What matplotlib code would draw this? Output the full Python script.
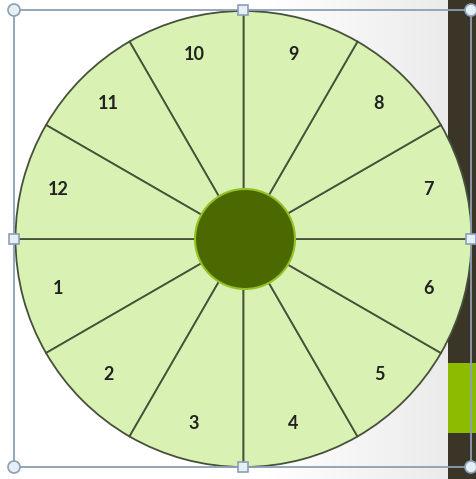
import numpy as np
import matplotlib
matplotlib.use("Agg")
import matplotlib.pyplot as plt
from matplotlib.patches import Circle, Rectangle

# clock-face segments, 1..12, all the same size
labels = ['1', '2', '3', '4', '5', '6', '7', '8', '9', '10', '11', '12']
sizes = [1] * 12

W, H = 476, 479
fig = plt.figure(figsize=(W / 100, H / 100), dpi=100)
ax = fig.add_axes([0, 0, 1, 1])

# background: white fading to light grey toward the right strip
grad = np.linspace(0, 1, 256)
grad = np.clip((grad - 0.6) / 0.4, 0, 1)[None, :]
ax.imshow(grad, extent=(0, 448, 0, H), cmap=matplotlib.colors.LinearSegmentedColormap.from_list(
    'bg', ['#ffffff', '#ebebeb']), aspect='auto', zorder=0)

# dark strip + green block on the right edge
ax.add_patch(Rectangle((448, 0), 30, H, fc='#3b3527', ec='none', zorder=1))
ax.add_patch(Rectangle((448, 46), 30, 70, fc='#8cbb00', ec='none', zorder=1))

cx, cy, R = 243.5, 240, 228
wedges, texts = ax.pie(sizes, labels=labels, startangle=180, counterclock=True,
                       center=(cx, cy), radius=R, labeldistance=0.84,
                       colors=['#d9f1b2'] * 12,
                       wedgeprops=dict(edgecolor='#46513a', linewidth=1.3),
                       textprops=dict(fontsize=13, color='#222222', family='Lato',
                                      fontweight='bold', ha='center', va='center'))
for w in wedges:
    w.set_zorder(2)
for t in texts:
    t.set_zorder(3)

# hub
ax.add_patch(Circle((245, 240), 50, fc='#4b6900', ec='#93c224', lw=1.5, zorder=4))

# selection frame with handles
sel = '#8c9fb5'
x0, x1, y0, y1 = 14, 471, H - 467, H - 10
ax.plot([x0, x1, x1, x0, x0], [y0, y0, y1, y1, y0], color=sel, lw=1.3, zorder=5)
for (hx, hy) in [(x0, y0), (x1, y0), (x0, y1), (x1, y1)]:
    ax.add_patch(Circle((hx, hy), 6, fc='#e4f0f6', ec=sel, lw=1.2, zorder=6))
mx, my = (x0 + x1) / 2 + 0.5, (y0 + y1) / 2
for (hx, hy) in [(mx, y0), (mx, y1), (x0, my), (x1, my)]:
    ax.add_patch(Rectangle((hx - 5, hy - 5), 10, 10, fc='#e4f0f6', ec=sel, lw=1.2, zorder=6))

ax.set_xlim(0, W)
ax.set_ylim(0, H)
ax.set_aspect('equal')
ax.axis('off')

fig.savefig('out.png', dpi=100)
